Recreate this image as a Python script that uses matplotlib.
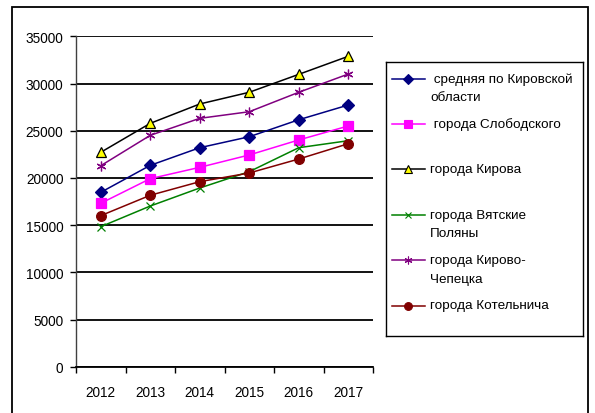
import matplotlib
matplotlib.use("Agg")
import matplotlib.pyplot as plt
from matplotlib.patches import Rectangle

plt.rcParams['font.family'] = ['Liberation Sans', 'DejaVu Sans']

# --- data (average wage, roubles) ---
years = ['2012', '2013', '2014', '2015', '2016', '2017']
avg_region = [18470, 21330, 23200, 24360, 26160, 27720]
slobodskoy = [17310, 19920, 21120, 22430, 24020, 25500]
kirov = [22710, 25780, 27830, 29070, 30970, 32880]
vyatskie_polyany = [14830, 17020, 18930, 20660, 23200, 23940]
kirovo_chepetsk = [21290, 24510, 26310, 27010, 29070, 31000]
kotelnich = [16000, 18160, 19600, 20520, 22000, 23620]

labels = [' средняя по Кировской\nобласти', ' города Слободского', 'города Кирова',
          'города Вятские\nПоляны', 'города Кирово-\nЧепецка', 'города Котельнича']
series = [avg_region, slobodskoy, kirov, vyatskie_polyany, kirovo_chepetsk, kotelnich]

# line colour, marker, marker face, marker edge, marker size
styles = [
    ('#000080', 'D', '#000080', '#000080', 6.5),
    ('#FF00FF', 's', '#FF00FF', '#FF00FF', 6.5),
    ('#000000', '^', '#FFFF00', '#000000', 7.5),
    ('#008000', 'x', '#008000', '#008000', 5.5),
    ('#800080', (6, 2, 0), '#800080', '#800080', 7.0),
    ('#800000', 'o', '#800000', '#800000', 7.0),
]

W, H = 595, 414
fig = plt.figure(figsize=(W / 100, H / 100), dpi=100)

# outer chart frame (bottom edge runs off the picture)
fig.patches.append(Rectangle((12 / W, -0.05), (588 - 12) / W, 1.05 - 8 / H,
                             transform=fig.transFigure, fill=False,
                             edgecolor='black', linewidth=1.3))

ax = fig.add_axes([76 / W, 1 - 367.7 / H, (373 - 76) / W, (367.7 - 37.3) / H])
x = list(range(len(years)))
for vals, (col, mk, fc, ec, ms) in zip(series, styles):
    ax.plot(x, vals, color=col, linewidth=1.1, marker=mk, markersize=ms,
            markerfacecolor=fc, markeredgecolor=ec, markeredgewidth=0.9,
            zorder=3)

ax.set_xlim(-0.5, len(years) - 0.5)
ax.set_ylim(0, 35000)
ax.set_yticks(range(0, 35001, 5000))
ax.set_xticks([i - 0.5 for i in range(len(years) + 1)])
ax.set_xticklabels([])
ax.set_xticks(x, minor=True)
ax.set_xticklabels(years, minor=True)
ax.tick_params(axis='x', which='major', length=4, width=1, direction='out')
ax.tick_params(axis='x', which='minor', length=0, pad=13, labelsize=9.8)
ax.tick_params(axis='y', length=4, width=1, direction='out', pad=5, labelsize=9.8)
ax.yaxis.grid(True, color='black', linewidth=1.3)
ax.set_axisbelow(True)
for side in ('top', 'right'):
    ax.spines[side].set_visible(False)
ax.spines['left'].set_color('#404040')
ax.spines['bottom'].set_color('black')
ax.spines['left'].set_linewidth(1.0)
ax.spines['bottom'].set_linewidth(1.3)

# --- legend box, laid out in pixel units ---
lax = fig.add_axes([386 / W, 1 - 337 / H, (583 - 386) / W, (337 - 63) / H])
lax.set_xlim(386, 583)
lax.set_ylim(337, 63)
lax.set_xticks([])
lax.set_yticks([])
for sp in lax.spines.values():
    sp.set_linewidth(1.0)
    sp.set_color('black')

row0, row_step, line_step = 79.5, 45.4, 18.5
for i, (lab, (col, mk, fc, ec, ms)) in enumerate(zip(labels, styles)):
    y = row0 + i * row_step
    lax.plot([392, 425], [y, y], color=col, linewidth=1.1)
    lax.plot([408.5], [y], marker=mk, markersize=ms * 0.8, color=col,
             markerfacecolor=fc, markeredgecolor=ec, markeredgewidth=0.8)
    for j, part in enumerate(lab.split('\n')):
        lax.text(430, y + j * line_step, part, fontsize=9.7,
                 va='center', ha='left')

fig.savefig('out.png', dpi=100)
